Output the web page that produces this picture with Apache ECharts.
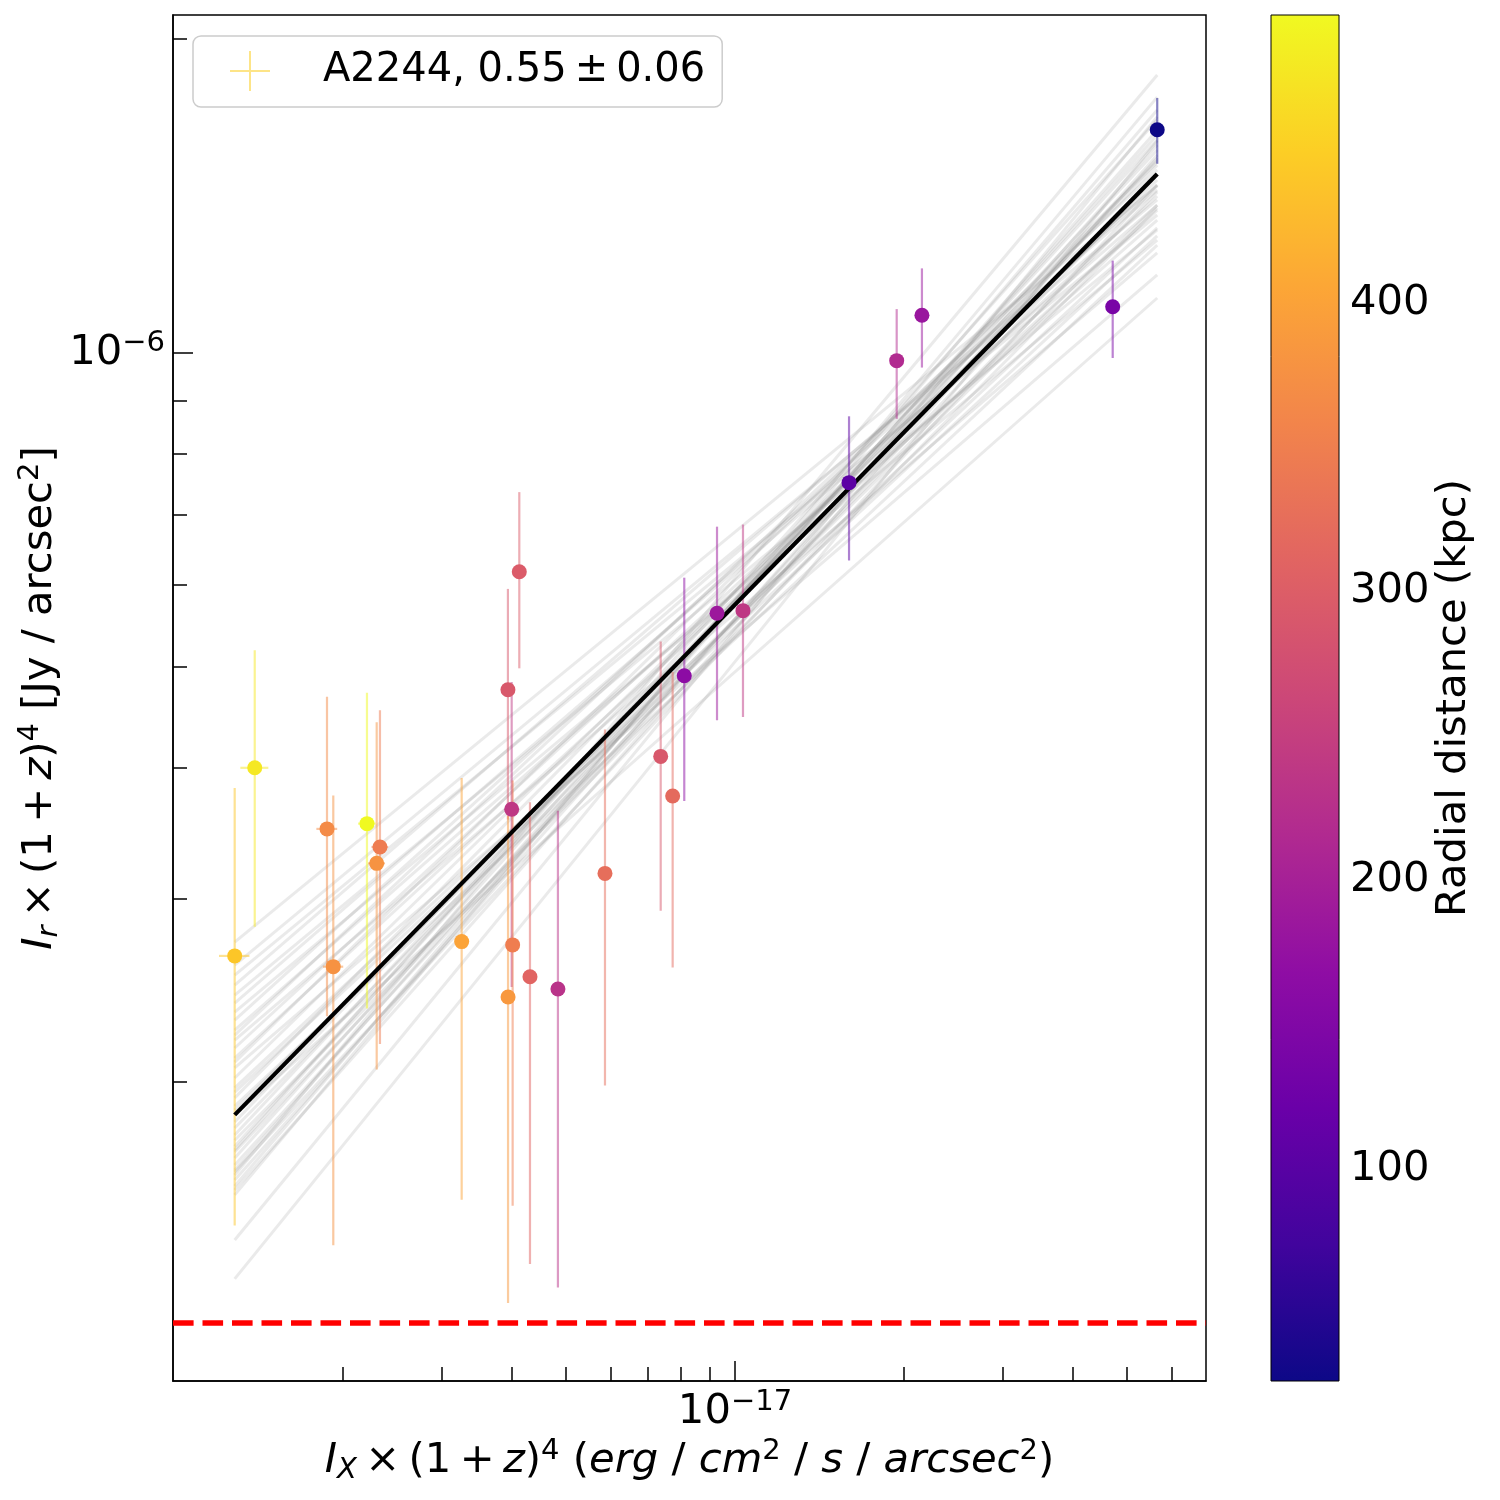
<!DOCTYPE html>
<html>
<head>
<meta charset="utf-8">
<script src="https://cdn.jsdelivr.net/npm/echarts@6.0.0/dist/echarts.min.js"></script>
<style>html,body{margin:0;padding:0;background:#fff}#chart{width:1500px;height:1500px}</style>
</head>
<body>
<div id="chart"></div>
<script>
// ---------------- data ----------------
const xVals = [1.283e-18, 1.393e-18, 1.874e-18, 1.923e-18, 2.208e-18, 2.329e-18, 2.298e-18, 3.257e-18,
               3.938e-18, 3.999e-18, 4.015e-18, 3.940e-18, 4.126e-18, 4.311e-18, 4.835e-18, 5.865e-18,
               7.372e-18, 7.743e-18, 8.121e-18, 9.289e-18, 1.0334e-17, 1.597e-17, 1.942e-17, 2.154e-17,
               4.713e-17, 5.658e-17];
const yVals = [2.642e-7, 4.002e-7, 3.497e-7, 2.580e-7, 3.538e-7, 3.360e-7, 3.241e-7, 2.727e-7,
               4.755e-7, 3.652e-7, 2.707e-7, 2.413e-7, 6.170e-7, 2.523e-7, 2.456e-7, 3.170e-7,
               4.104e-7, 3.760e-7, 4.904e-7, 5.630e-7, 5.662e-7, 7.510e-7, 9.832e-7, 1.0868e-6,
               1.1075e-6, 1.637e-6];
const radDist = [442, 480, 366, 376, 498.7, 345, 378, 400,
                 290, 238, 347, 385, 295, 309, 229, 324,
                 290, 319, 163, 186, 238, 104, 215, 182,
                 139, 25.5];
const yErr = [1.185e-7, 1.185e-7, 1.185e-7, 1.185e-7, 1.185e-7, 1.185e-7, 1.185e-7, 1.185e-7,
              1.185e-7, 1.185e-7, 1.185e-7, 1.185e-7, 1.185e-7, 1.185e-7, 1.185e-7, 1.185e-7,
              1.185e-7, 1.185e-7, 1.185e-7, 1.185e-7, 1.185e-7, 1.185e-7, 1.185e-7, 1.185e-7,
              1.185e-7, 1.185e-7];
const xErr = [8e-20, 8e-20, 8e-20, 8e-20, 8e-20, 8e-20, 8e-20, 8e-20,
              8e-20, 8e-20, 8e-20, 8e-20, 8e-20, 8e-20, 8e-20, 8e-20,
              8e-20, 8e-20, 8e-20, 8e-20, 8e-20, 8e-20, 8e-20, 8e-20,
              8e-20, 8e-20];
// best fit, value at the smallest and largest x
const fitY = [1.860e-7, 1.4845e-6];
// posterior sample lines, value at the smallest and largest x
const sampleLeftY = [2.724e-7, 2.589e-7, 2.532e-7, 2.477e-7, 2.423e-7, 2.380e-7, 2.334e-7, 2.293e-7,
                     2.243e-7, 2.194e-7, 2.156e-7, 2.109e-7, 2.063e-7, 2.018e-7, 1.974e-7, 1.931e-7,
                     1.897e-7, 1.860e-7, 1.831e-7, 1.807e-7, 1.779e-7, 1.759e-7, 1.736e-7, 1.714e-7,
                     1.691e-7, 1.665e-7, 1.647e-7, 1.629e-7, 1.611e-7, 1.590e-7, 1.576e-7, 1.559e-7,
                     1.411e-7, 1.295e-7, 2.090e-7, 1.956e-7, 1.880e-7, 1.721e-7, 2.218e-7, 1.640e-7];
const sampleRightY = [1.446e-6, 1.402e-6, 1.356e-6, 1.433e-6, 1.312e-6, 1.386e-6, 1.283e-6, 1.449e-6,
                      1.341e-6, 1.247e-6, 1.414e-6, 1.371e-6, 1.188e-6, 1.465e-6, 1.318e-6, 1.514e-6,
                      1.269e-6, 1.129e-6, 1.531e-6, 1.427e-6, 1.565e-6, 1.377e-6, 1.600e-6, 1.481e-6,
                      1.618e-6, 1.538e-6, 1.636e-6, 1.847e-6, 1.583e-6, 1.710e-6, 1.548e-6, 1.759e-6,
                      1.684e-6, 1.597e-6, 1.524e-6, 1.295e-6, 1.386e-6, 1.673e-6, 1.498e-6, 1.449e-6];
const noiseLevel = 1.185e-7;
const xLim = [9.96e-19, 6.912e-17];
const yLim = [1.0337e-7, 2.1087e-6];
const xMajorTicks = [1e-17];
const xMinorTicks = [2e-18, 3e-18, 4e-18, 5e-18, 6e-18, 7e-18, 8e-18, 9e-18, 2e-17, 3e-17, 4e-17, 5e-17, 6e-17];
const yMajorTicks = [1e-6];
const yMinorTicks = [2e-7, 3e-7, 4e-7, 5e-7, 6e-7, 7e-7, 8e-7, 9e-7, 2e-6];
const cbTicks = [100, 200, 300, 400];
const legendLabel = 'A2244, 0.55\u2009\u00b1\u20090.06';
const cbLabel = 'Radial distance (kpc)';

// ---------------- build ----------------
const FONT = 'DejaVu Sans';
const FS = 41.7;
const L = Math.log10;
const plasma = ['#0d0887','#41049d','#6a00a8','#8f0da4','#b12a90','#cc4778','#e16462','#f2844b','#fca636','#fcce25','#f0f921'];
const rMin = Math.min(...radDist), rMax = Math.max(...radDist);
const xMin = Math.min(...xVals), xMax = Math.max(...xVals);

const pointData = xVals.map((x, i) => [L(x), L(yVals[i]), radDist[i]]);
const errData = xVals.map((x, i) => [L(x), L(yVals[i]), radDist[i],
  L(yVals[i] - yErr[i]), L(yVals[i] + yErr[i]), L(x - xErr[i]), L(x + xErr[i])]);
const sampleData = sampleLeftY.map((yl, i) => ({coords: [[L(xMin), L(yl)], [L(xMax), L(sampleRightY[i])]]}));

const powRich = {
  b: {fontSize: FS, lineHeight: 48, fontFamily: FONT, color: '#000'},
  s: {fontSize: 29, lineHeight: 26, verticalAlign: 'top', fontFamily: FONT, color: '#000'}
};
const powLabel = v => '{b|10}{s|\u2212' + Math.round(-v) + '}';
const cbRich = {
  a: {fontSize: FS, lineHeight: 42, verticalAlign: 'bottom', fontFamily: FONT, color: '#000'},
  p: {fontSize: 1, lineHeight: 48, fontFamily: FONT, color: 'rgba(0,0,0,0)'}
};
const nameRich = {
  n: {fontSize: FS, lineHeight: 48, fontFamily: FONT, color: '#000'},
  i: {fontSize: FS, lineHeight: 48, fontFamily: FONT, fontStyle: 'italic', color: '#000'},
  sup: {fontSize: 29, lineHeight: 26, verticalAlign: 'top', fontFamily: FONT, color: '#000'},
  sub: {fontSize: 29, lineHeight: 30, verticalAlign: 'bottom', fontFamily: FONT, fontStyle: 'italic', color: '#000'}
};
const T = '\u2009';
const xName = '{i|I}{sub|X}{n|' + T + '\u00d7' + T + '(1' + T + '+' + T + '}{i|z}{n|)}{sup|4}{n| (}{i|erg}{n| / }{i|cm}{sup|2}{n| / }{i|s}{n| / }{i|arcsec}{sup|2}{n|)}';
const yName = '{i|I}{sub|r}{n|' + T + '\u00d7' + T + '(1' + T + '+' + T + '}{i|z}{n|)}{sup|4}{n| [Jy / arcsec}{sup|2}{n|]}';

const tickLine = {color: '#000', width: 1.5};

const option = {
  animation: false,
  backgroundColor: '#ffffff',
  textStyle: {fontFamily: FONT},
  grid: [
    {left: 173, top: 15, width: 1033, height: 1366, show: true, borderColor: '#000', borderWidth: 1.5,
     backgroundColor: 'transparent', containLabel: false, outerBoundsMode: 'none'},
    {left: 1271, top: 15, width: 68, height: 1366, show: false, containLabel: false, outerBoundsMode: 'none'}
  ],
  xAxis: [
    {gridIndex: 0, type: 'value', position: 'bottom', min: L(xLim[0]), max: L(xLim[1]),
     axisLine: {show: true, onZero: false, lineStyle: tickLine},
     axisTick: {show: true, inside: true, length: 20, lineStyle: tickLine, customValues: xMajorTicks.map(L)},
     axisLabel: {show: true, customValues: xMajorTicks.map(L), formatter: powLabel, margin: 7, rich: powRich},
     splitLine: {show: false},
     name: xName, nameLocation: 'middle', nameGap: 56, nameMoveOverlap: false,
     nameTextStyle: {rich: nameRich}},
    {gridIndex: 0, type: 'value', position: 'bottom', offset: 0, min: L(xLim[0]), max: L(xLim[1]),
     axisLine: {show: false, onZero: false},
     axisTick: {show: true, inside: true, length: 14, lineStyle: tickLine, customValues: xMinorTicks.map(L)},
     axisLabel: {show: false}, splitLine: {show: false}},
    {gridIndex: 1, type: 'value', min: 0, max: 1, show: false}
  ],
  yAxis: [
    {gridIndex: 0, type: 'value', min: L(yLim[0]), max: L(yLim[1]), position: 'left',
     axisLine: {show: true, onZero: false, lineStyle: tickLine},
     axisTick: {show: true, inside: true, length: 20, lineStyle: tickLine, customValues: yMajorTicks.map(L)},
     axisLabel: {show: true, customValues: yMajorTicks.map(L), formatter: powLabel, margin: 8, rich: powRich},
     splitLine: {show: false},
     name: yName, nameLocation: 'middle', nameGap: 109, nameRotate: 90, nameMoveOverlap: false,
     nameTextStyle: {rich: nameRich}},
    {gridIndex: 0, type: 'value', min: L(yLim[0]), max: L(yLim[1]), position: 'left', offset: 0,
     axisLine: {show: false, onZero: false},
     axisTick: {show: true, inside: true, length: 14, lineStyle: tickLine, customValues: yMinorTicks.map(L)},
     axisLabel: {show: false}, splitLine: {show: false}},
    {gridIndex: 1, type: 'value', min: rMin, max: rMax, position: 'right',
     axisLine: {show: false},
     axisTick: {show: true, inside: false, length: 5, lineStyle: {color: '#000', width: 1}, customValues: cbTicks},
     axisLabel: {show: true, customValues: cbTicks, margin: 11, formatter: v => '{a|' + v + '}{p| }', rich: cbRich},
     splitLine: {show: false},
     name: cbLabel, nameLocation: 'middle', nameGap: 94, nameRotate: 90, nameMoveOverlap: false,
     nameTextStyle: {fontSize: FS, color: '#000', fontFamily: FONT}}
  ],
  visualMap: [{
    type: 'continuous', show: false, dimension: 2, min: rMin, max: rMax,
    seriesIndex: [2, 3], inRange: {color: plasma}
  }],
  legend: {
    show: true, left: 193, top: 36, selectedMode: false,
    padding: [11, 17, 12, 37],
    itemWidth: 40, itemHeight: 42,
    borderColor: '#cccccc', borderWidth: 1.5, borderRadius: 8, backgroundColor: 'rgba(255,255,255,0.8)',
    textStyle: {fontSize: 40, lineHeight: 48, color: '#000', fontFamily: FONT, padding: [0, 0, 0, 48]},
    data: [{name: legendLabel,
            icon: 'path://M0,9.5H20V10.5H0Z M9.5,0H10.5V20H9.5Z',
            itemStyle: {color: '#fcce25', opacity: 0.55}}]
  },
  series: [
    {type: 'lines', name: 'samples', coordinateSystem: 'cartesian2d', xAxisIndex: 0, yAxisIndex: 0,
     polyline: false, silent: true, z: 1,
     lineStyle: {color: '#808080', width: 3, opacity: 0.17},
     data: sampleData},
    {type: 'line', name: 'fit', xAxisIndex: 0, yAxisIndex: 0, showSymbol: false, symbol: 'none', silent: true, z: 3,
     lineStyle: {color: '#000', width: 4.2},
     data: [[L(xMin), L(fitY[0])], [L(xMax), L(fitY[1])]],
     markLine: {silent: true, symbol: ['none', 'none'], label: {show: false},
                lineStyle: {color: '#ff0000', width: 5.5, type: [20.6, 8.9]},
                data: [{yAxis: L(noiseLevel)}]}},
    {type: 'custom', name: legendLabel, xAxisIndex: 0, yAxisIndex: 0, z: 2, silent: true,
     encode: {x: 0, y: 1},
     data: errData,
     renderItem: function (params, api) {
       const x = api.value(0), y = api.value(1);
       const p0 = api.coord([x, api.value(3)]), p1 = api.coord([x, api.value(4)]);
       const q0 = api.coord([api.value(5), y]), q1 = api.coord([api.value(6), y]);
       const c = api.visual('color');
       return {type: 'group', children: [
         {type: 'line', shape: {x1: p0[0], y1: p0[1], x2: p1[0], y2: p1[1]}, style: {stroke: c, lineWidth: 2.2, opacity: 0.5}},
         {type: 'line', shape: {x1: q0[0], y1: q0[1], x2: q1[0], y2: q1[1]}, style: {stroke: c, lineWidth: 2.2, opacity: 0.5}}
       ]};
     }},
    {type: 'scatter', name: 'points', xAxisIndex: 0, yAxisIndex: 0, z: 4, silent: true,
     symbol: 'circle', symbolSize: 15, itemStyle: {opacity: 1},
     data: pointData},
    {type: 'custom', name: 'colorbar', xAxisIndex: 2, yAxisIndex: 2, silent: true,
     encode: {x: 0, y: [1, 2]},
     data: [[0, rMin, rMax]],
     renderItem: function (params, api) {
       const a = api.coord([0, api.value(2)]);
       const b = api.coord([1, api.value(1)]);
       const stops = plasma.slice().reverse().map((c, i) => ({offset: i / (plasma.length - 1), color: c}));
       return {type: 'rect', shape: {x: a[0], y: a[1], width: b[0] - a[0], height: b[1] - a[1]},
               style: {fill: new echarts.graphic.LinearGradient(0, 0, 0, 1, stops), stroke: '#000', lineWidth: 1}};
     }}
  ]
};

const chart = echarts.init(document.getElementById('chart'), null, {renderer: 'canvas', width: 1500, height: 1500});
chart.setOption(option);
</script>
</body>
</html>
